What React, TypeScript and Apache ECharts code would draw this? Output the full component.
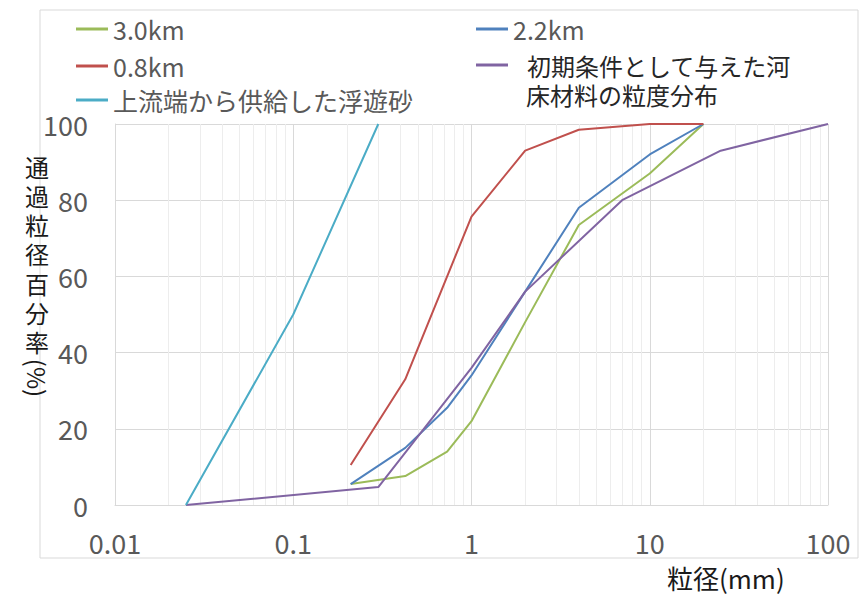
import React, { useEffect, useRef } from "react";
import * as echarts from "echarts";

const FONT = "'Noto Sans CJK JP', 'Noto Sans', sans-serif";

// grain size (mm) and percent passing for each series
const size30 = [0.21, 0.425, 0.73, 1, 2, 4, 10, 20];
const pass30 = [5.5, 7.6, 14, 22, 48, 73.5, 87, 100];

const size22 = [0.21, 0.425, 0.73, 1, 2, 4, 10, 20];
const pass22 = [5.5, 15, 25.5, 34, 56, 78, 92, 100];

const size08 = [0.21, 0.425, 1, 2, 4, 10, 20];
const pass08 = [10.5, 33, 75.7, 93, 98.5, 100, 100];

const sizeInit = [0.025, 0.3, 1, 2, 7, 25, 100];
const passInit = [0, 4.7, 36, 56, 80, 93, 100];

const sizeSupply = [0.025, 0.1, 0.3];
const passSupply = [0, 50, 100];

const names = ["3.0km", "2.2km", "0.8km", "初期条件として与えた河床材料の粒度分布", "上流端から供給した浮遊砂"];
const colors = ["#9BBB59", "#4F81BD", "#C0504D", "#8064A2", "#4BACC6"];

const xTickLabels = ["0.01", "0.1", "1", "10", "100"];
const decades = [0.01, 0.1, 1, 10];
const yTitleChars = ["通", "過", "粒", "径", "百", "分", "率"];

const pairs = (xs: number[], ys: number[]) => xs.map((x, i) => [x, ys[i]]);

export default function App() {
  const ref = useRef<HTMLDivElement>(null);
  useEffect(() => {
    if (!ref.current) return;
    const chart = echarts.init(ref.current, null, { renderer: "svg" });
    const minor: any[] = [];
    decades.forEach((d) => {
      for (let k = 2; k <= 9; k++) minor.push({ xAxis: +(d * k).toPrecision(6) });
    });
    const dataSets = [
      pairs(size30, pass30),
      pairs(size22, pass22),
      pairs(size08, pass08),
      pairs(sizeInit, passInit),
      pairs(sizeSupply, passSupply),
    ];
    const legendBase = {
      orient: "horizontal",
      padding: 0,
      icon: "rect",
      itemWidth: 32,
      itemHeight: 3,
      selectedMode: false,
      textStyle: { fontSize: 25, color: "#595959", fontFamily: FONT, lineHeight: 28 },
    };
    const yTitle = yTitleChars.map((c, i) => ({
      type: "text",
      x: 37,
      y: 166 + i * 29.3,
      style: {
        text: c,
        fontSize: 24,
        fill: "#1a1a1a",
        fontFamily: FONT,
        align: "center",
        verticalAlign: "middle",
      },
    }));
    chart.setOption({
      animation: false,
      backgroundColor: "#ffffff",
      grid: { left: 115, right: 35, top: 124, bottom: 90 },
      legend: [
        { ...legendBase, data: [{ name: names[0], itemStyle: { color: colors[0] } }], left: 76, top: 15 },
        { ...legendBase, data: [{ name: names[1], itemStyle: { color: colors[1] } }], left: 476, top: 15 },
        { ...legendBase, data: [{ name: names[2], itemStyle: { color: colors[2] } }], left: 76, top: 52 },
        {
          ...legendBase,
          data: [{ name: names[3], itemStyle: { color: colors[3] } }],
          left: 476,
          top: 51,
          formatter: () => "初期条件として与えた河",
          textStyle: { fontSize: 24, color: "#262626", fontFamily: FONT, lineHeight: 28, padding: [0, 0, 0, 14] },
        },
        { ...legendBase, data: [{ name: names[4], itemStyle: { color: colors[4] } }], left: 76, top: 86 },
      ],
      xAxis: {
        type: "log",
        logBase: 10,
        min: 0.01,
        max: 100,
        axisLine: { show: true, lineStyle: { color: "#D9D9D9" } },
        axisTick: { show: false },
        axisLabel: {
          fontSize: 27,
          color: "#595959",
          fontFamily: FONT,
          margin: 24,
          formatter: (_v: number, i: number) => xTickLabels[i] ?? "",
        },
        splitLine: { show: true, lineStyle: { color: "#D9D9D9", width: 1 } },
      },
      yAxis: {
        type: "value",
        min: 0,
        max: 100,
        interval: 20,
        axisLine: { show: true, lineStyle: { color: "#D9D9D9" } },
        axisTick: { show: false },
        axisLabel: { fontSize: 27, color: "#595959", fontFamily: FONT, margin: 27 },
        splitLine: { show: true, lineStyle: { color: "#D9D9D9", width: 1 } },
      },
      graphic: [
        {
          type: "rect",
          shape: { x: 40, y: 10, width: 818, height: 548 },
          style: { fill: "none", stroke: "#D9D9D9", lineWidth: 1 },
          silent: true,
        },
        {
          type: "text",
          x: 526,
          y: 94,
          style: { text: "床材料の粒度分布", fontSize: 24, fill: "#262626", fontFamily: FONT, verticalAlign: "middle" },
        },
        ...yTitle,
        {
          type: "text",
          x: 37,
          y: 378,
          rotation: -Math.PI / 2,
          style: {
            text: "(%)",
            fontSize: 24,
            fill: "#1a1a1a",
            fontFamily: FONT,
            align: "center",
            verticalAlign: "middle",
          },
        },
        {
          type: "text",
          x: 667,
          y: 577,
          style: { text: "粒径(mm)", fontSize: 26, fill: "#1a1a1a", fontFamily: FONT, verticalAlign: "middle" },
        },
      ],
      series: [
        {
          type: "line",
          name: "__minor",
          data: [],
          z: 1,
          silent: true,
          markLine: {
            z: 1,
            silent: true,
            symbol: ["none", "none"],
            label: { show: false },
            lineStyle: { color: "#EDEDED", width: 1, type: "solid" },
            emphasis: { disabled: true },
            data: minor,
          },
        },
        ...names.map((n, i) => ({
          type: "line",
          name: n,
          data: dataSets[i],
          showSymbol: false,
          symbol: "none",
          z: 10,
          lineStyle: { color: colors[i], width: 2 },
          itemStyle: { color: colors[i] },
        })),
      ],
    });
    return () => chart.dispose();
  }, []);
  return (
    <div
      ref={ref}
      style={{ position: "fixed", left: 0, top: 0, width: 863, height: 595, background: "#fff" }}
    />
  );
}
